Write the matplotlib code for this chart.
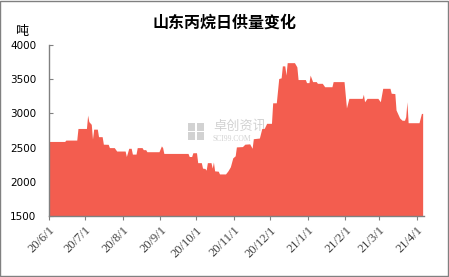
import pandas as pd
import matplotlib
matplotlib.use('Agg')
from matplotlib import pyplot as plt
from matplotlib.patches import Rectangle

plt.rcParams['font.family'] = ['Noto Sans CJK SC', 'DejaVu Sans']

# daily propane supply
days = ['2020-06-01', '2020-06-14', '2020-06-15', '2020-06-24', '2020-06-25', '2020-07-02',
        '2020-07-03', '2020-07-04', '2020-07-06', '2020-07-07', '2020-07-08', '2020-07-11',
        '2020-07-12', '2020-07-15', '2020-07-16', '2020-07-20', '2020-07-21', '2020-07-25',
        '2020-07-27', '2020-08-03', '2020-08-04', '2020-08-06', '2020-08-08', '2020-08-09',
        '2020-08-12', '2020-08-13', '2020-08-17', '2020-08-18', '2020-08-20', '2020-08-21',
        '2020-08-31', '2020-09-02', '2020-09-03', '2020-09-04', '2020-09-24', '2020-09-25',
        '2020-09-27', '2020-09-28', '2020-10-01', '2020-10-02', '2020-10-05', '2020-10-06',
        '2020-10-08', '2020-10-09', '2020-10-10', '2020-10-13', '2020-10-14', '2020-10-15',
        '2020-10-16', '2020-10-19', '2020-10-20', '2020-10-25', '2020-10-27', '2020-10-29',
        '2020-10-31', '2020-11-02', '2020-11-03', '2020-11-08', '2020-11-10', '2020-11-14',
        '2020-11-16', '2020-11-17', '2020-11-22', '2020-11-24', '2020-11-26', '2020-11-28',
        '2020-12-02', '2020-12-03', '2020-12-06', '2020-12-08', '2020-12-10', '2020-12-11',
        '2020-12-13', '2020-12-14', '2020-12-15', '2020-12-21', '2020-12-23', '2020-12-24',
        '2020-12-30', '2020-12-31', '2021-01-02', '2021-01-03', '2021-01-05', '2021-01-08',
        '2021-01-09', '2021-01-13', '2021-01-15', '2021-01-21', '2021-01-22', '2021-01-31',
        '2021-02-02', '2021-02-04', '2021-02-15', '2021-02-16', '2021-02-17', '2021-02-19',
        '2021-02-28', '2021-03-02', '2021-03-04', '2021-03-10', '2021-03-11', '2021-03-14',
        '2021-03-15', '2021-03-18', '2021-03-20', '2021-03-22', '2021-03-23', '2021-03-24',
        '2021-03-25', '2021-04-03', '2021-04-05', '2021-04-06']
supply = [2590, 2590, 2610, 2610, 2780, 2780,
          2975, 2880, 2840, 2625, 2770, 2770,
          2660, 2660, 2550, 2548, 2500, 2500,
          2450, 2450, 2370, 2490, 2490, 2405,
          2405, 2500, 2500, 2470, 2470, 2440,
          2440, 2525, 2500, 2415, 2415, 2370,
          2370, 2425, 2425, 2280, 2280, 2200,
          2195, 2170, 2280, 2280, 2200, 2290,
          2160, 2155, 2115, 2115, 2160, 2220,
          2350, 2380, 2510, 2515, 2550, 2555,
          2490, 2630, 2640, 2780, 2780, 2855,
          2855, 3155, 3155, 3510, 3520, 3695,
          3695, 3560, 3742, 3742, 3680, 3495,
          3495, 3450, 3450, 3560, 3465, 3465,
          3440, 3440, 3390, 3390, 3465, 3465,
          3080, 3220, 3220, 3280, 3170, 3220,
          3220, 3170, 3367, 3367, 3295, 3290,
          3050, 2933, 2900, 2900, 2950, 3170,
          2864, 2864, 3000, 3000]

xticks = ['2020-06-01', '2020-07-01', '2020-08-01', '2020-09-01', '2020-10-01', '2020-11-01',
          '2020-12-01', '2021-01-01', '2021-02-01', '2021-03-01', '2021-04-01']
xticklabels = ['20/6/1', '20/7/1', '20/8/1', '20/9/1', '20/10/1', '20/11/1',
               '20/12/1', '21/1/1', '21/2/1', '21/3/1', '21/4/1']
yticks = [1500, 2000, 2500, 3000, 3500, 4000]

x = pd.to_datetime(days)

fig = plt.figure(figsize=(4.49, 2.77), dpi=100)
ax = fig.add_axes([0.109, 0.2202, 0.835, 0.6173])

ax.fill_between(x, supply, 1500, color='#F35D4F', linewidth=0, zorder=2)

ax.set_xlim(pd.Timestamp('2020-06-01'), pd.Timestamp('2021-04-07'))
ax.set_ylim(1500, 4000)
ax.set_yticks(yticks)
ax.set_yticklabels([str(v) for v in yticks], fontsize=7.5, family='DejaVu Sans')
ax.set_xticks(pd.to_datetime(xticks))
ax.set_xticklabels(xticklabels, rotation=45, ha='right', va='top',
                   rotation_mode='anchor', fontsize=9, color='#404040',
                   family=['Liberation Serif', 'DejaVu Serif'])
ax.tick_params(axis='y', direction='in', length=3, color='#808080', pad=9)
ax.tick_params(axis='x', direction='out', length=3, color='#808080', pad=3)

for s in ['top', 'right']:
    ax.spines[s].set_visible(False)
for s in ['left', 'bottom']:
    ax.spines[s].set_color('#808080')
    ax.spines[s].set_linewidth(1)

# watermark behind the area
wm = '#d2d2d2'
for lx, ly in [(0.371, 0.497), (0.394, 0.497), (0.371, 0.444), (0.394, 0.444)]:
    ax.add_patch(Rectangle((lx, ly), 0.019, 0.045, transform=ax.transAxes,
                           color=wm, linewidth=0, zorder=1))
ax.text(0.437, 0.527, '卓创资讯', transform=ax.transAxes, fontsize=9.5,
        color=wm, zorder=1, ha='left', va='center')
ax.text(0.437, 0.452, 'SCI99.COM', transform=ax.transAxes, fontsize=5.5,
        color=wm, zorder=1, ha='left', va='center', family=['Liberation Serif'])

fig.text(0.5, 0.92, '山东丙烷日供量变化', ha='center', va='center',
         fontsize=11.5, fontweight='bold')
fig.text(0.048, 0.888, '吨', ha='center', va='center', fontsize=9.5)

fig.patches.append(Rectangle((0.001, 0.002), 0.997, 0.996, transform=fig.transFigure,
                             fill=False, edgecolor='#808080', linewidth=1))

fig.savefig('out.png', dpi=100)
